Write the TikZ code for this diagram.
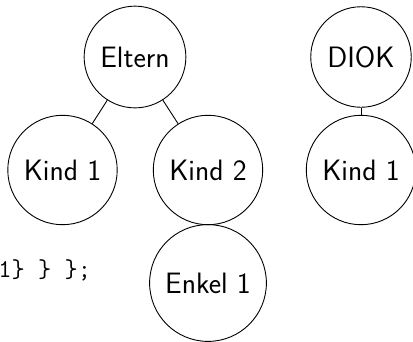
\documentclass[tikz,border=0pt]{standalone}
\usepackage{fontspec}
\usepackage{tikz}
\usetikzlibrary{positioning}

\begin{document}
\begin{tikzpicture}[-,x=1pt,y=1pt,node distance=113pt,on grid,line width=0.9pt,
	main node/.style={circle,draw,inner sep=11.5pt,font=\sffamily\fontsize{29.5}{35}\selectfont},
	code node/.style={inner sep=0pt,anchor=base west,font=\ttfamily\fontsize{25.7}{30}\selectfont}]
	\useasboundingbox (0,0) rectangle (413,-341);

	\node[main node](E) at (135,-57){Eltern};
	\node[main node](K1)[below left = 113pt and 72.5pt of E]{Kind 1};
	\node[main node](K2)[below right = 113pt and 73pt of E]{Kind 2};
	\node[main node](EK1)[below = 113pt of K2]{Enkel 1};

	\node[main node](D) at (361,-57){DIOK};
	\node[main node](DK1)[below = 113pt of D]{Kind 1};

	\node[code node](C) at (-2,-277){1\} \} \};};

	\path
	(E)  edge (K1)
	     edge (K2)
	(K2) edge (EK1)
	(D)  edge (DK1);
\end{tikzpicture}
\end{document}
